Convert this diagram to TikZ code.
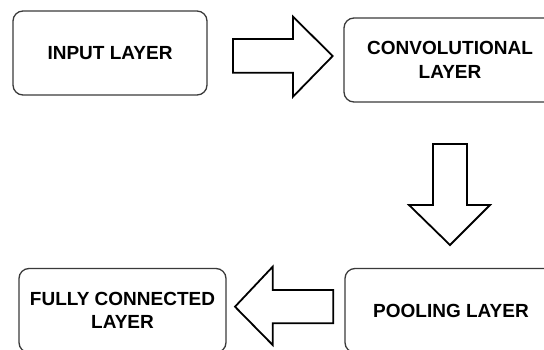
\documentclass[tikz,border=0pt]{standalone}
\usepackage{fontspec}
\setmainfont{Liberation Sans}
\definecolor{boxgray}{HTML}{3A3A3A}
\begin{document}
\begin{tikzpicture}[x=1pt,y=-1pt,
  layer/.style={draw=boxgray, line width=1.3pt, rounded corners=10pt,
    minimum height=84pt, inner sep=0pt, align=center,
    font=\fontsize{19}{23.5}\selectfont\bfseries, text=black},
  blockarrow/.style={draw=black, line width=1.8pt, line join=miter, fill=white}]
\useasboundingbox (0,0) rectangle (544,349);
\clip (0,0) rectangle (544,349);

% the four stages of the network
\node[layer, minimum width=194pt] (input) at (110,53)    {INPUT LAYER};
\node[layer, minimum width=212pt] (conv)  at (450,60)    {CONVOLUTIONAL\\LAYER};
\node[layer, minimum width=212pt] (pool)  at (451,310.5) {POOLING LAYER};
\node[layer, minimum width=207pt] (fc)    at (122.5,310.5) {FULLY CONNECTED\\LAYER};

% hollow block arrows between the stages
% input -> convolutional
\draw[blockarrow] (233,39) -- (293,39) -- (293,16.7) -- (332.7,56)
  -- (293,96.7) -- (293,72.7) -- (233,72.7) -- cycle;
% convolutional -> pooling
\draw[blockarrow] (433,144) -- (467,144) -- (467,205) -- (490,205)
  -- (450,245) -- (409,205) -- (433,205) -- cycle;
% pooling -> fully connected
\draw[blockarrow] (333.3,290) -- (272.7,290) -- (272.7,266.7) -- (235,306.7)
  -- (272.7,345) -- (272.7,323.3) -- (333.3,323.3) -- cycle;
\end{tikzpicture}
\end{document}
